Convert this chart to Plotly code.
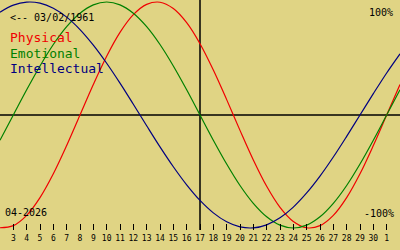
import plotly.graph_objects as go

# Day-of-month labels across the window (Apr 2 .. May 2, 2026)
days = [2, 3, 4, 5, 6, 7, 8, 9, 10, 11, 12, 13, 14, 15, 16, 17, 18, 19, 20,
        21, 22, 23, 24, 25, 26, 27, 28, 29, 30, 1, 2]

physical = [-0.998, -0.979, -0.888, -0.731, -0.520, -0.270, 0.000, 0.270,
            0.520, 0.731, 0.888, 0.979, 0.998, 0.942, 0.817, 0.631, 0.398,
            0.136, -0.136, -0.398, -0.631, -0.817, -0.942, -0.998, -0.979,
            -0.888, -0.731, -0.520, -0.270, 0.000, 0.270]

emotional = [-0.223, 0.000, 0.223, 0.434, 0.624, 0.782, 0.901, 0.975, 1.000,
             0.975, 0.901, 0.782, 0.624, 0.434, 0.223, 0.000, -0.223, -0.434,
             -0.624, -0.782, -0.901, -0.975, -1.000, -0.975, -0.901, -0.782,
             -0.624, -0.434, -0.223, 0.000, 0.223]

intellectual = [0.910, 0.972, 0.999, 0.990, 0.945, 0.866, 0.756, 0.618, 0.458,
                0.282, 0.095, -0.095, -0.282, -0.458, -0.618, -0.756, -0.866,
                -0.945, -0.990, -0.999, -0.972, -0.910, -0.815, -0.690, -0.541,
                -0.372, -0.189, 0.000, 0.189, 0.372, 0.541]

today_index = 15
birth_label = "<-- 03/02/1961"
month_label = "04-2026"

x = list(range(len(days)))
tick_idx = x[1:-1]
tick_txt = [str(d) for d in days[1:-1]]

BG = "#E0D484"
MONO = "DejaVu Sans Mono"

fig = go.Figure()
for name, vals, col in [("Physical", physical, "#F00000"),
                        ("Emotional", emotional, "#008000"),
                        ("Intellectual", intellectual, "#000080")]:
    fig.add_trace(go.Scatter(x=x, y=vals, mode="lines", name=name,
                             line=dict(color=col, width=1.2, shape="spline"),
                             hoverinfo="skip"))

R = 115 / 113
fig.add_shape(type="line", xref="paper", yref="y", x0=0, x1=1, y0=0, y1=0,
              line=dict(color="black", width=1.5), layer="below")
fig.add_shape(type="line", xref="x", yref="paper", x0=today_index, x1=today_index,
              y0=0, y1=1, line=dict(color="black", width=1.5), layer="below")

H = 230.0
def py(p):
    return 1 - p / H

def ann(text, xpx, ypx, size, color="black", anchor="left"):
    fig.add_annotation(text=text, xref="paper", yref="paper",
                       x=xpx / 400.0, y=py(ypx), xanchor=anchor, yanchor="middle",
                       showarrow=False, borderpad=0,
                       font=dict(family=MONO, size=size, color=color))

ann(birth_label, 9, 17, 10)
ann("Physical", 9, 38, 13, "#F00000")
ann("Emotional", 9, 53, 13, "#008000")
ann("Intellectual", 9, 68, 13, "#000080")
ann("100%", 394, 12, 10, anchor="right")
ann("-100%", 395, 213, 10, anchor="right")
ann(month_label, 4, 212, 10)

fig.update_layout(
    width=400, height=250,
    margin=dict(l=0, r=0, t=0, b=20, pad=0),
    paper_bgcolor=BG, plot_bgcolor=BG,
    showlegend=False,
    xaxis=dict(range=[0, len(days) - 1], tickvals=tick_idx, ticktext=tick_txt,
               ticks="inside", ticklen=6, tickwidth=1, tickcolor="black",
               ticklabelstandoff=2,
               showgrid=False, zeroline=False, showline=False,
               tickfont=dict(family=MONO, size=8, color="black"), fixedrange=True),
    yaxis=dict(range=[-R, R], showticklabels=False, showgrid=False,
               zeroline=False, showline=False, ticks="", fixedrange=True),
)

fig.write_html("out.html", config={"displayModeBar": False})
